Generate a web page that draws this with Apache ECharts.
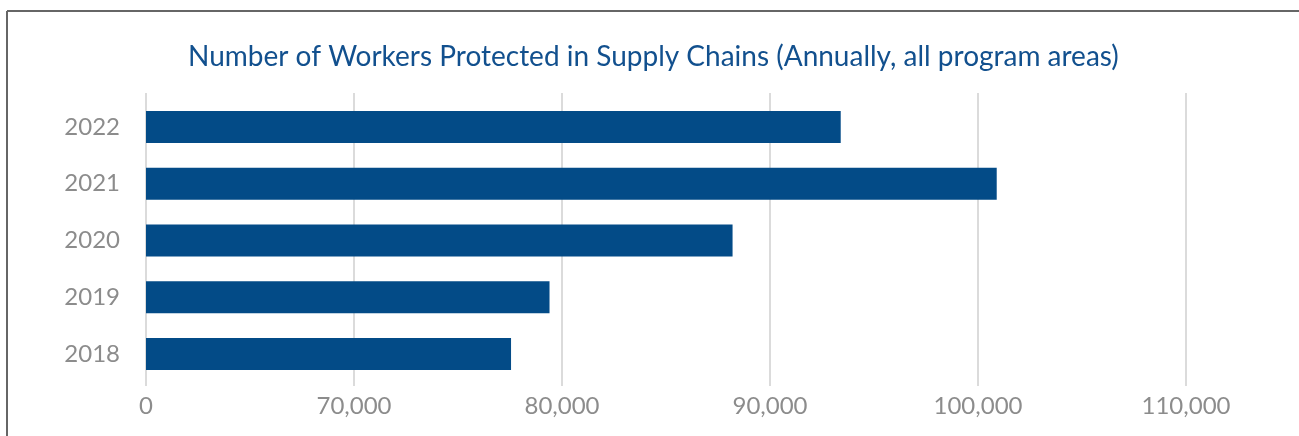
<!DOCTYPE html>
<html>
<head>
<meta charset="utf-8">
<title>Number of Workers Protected in Supply Chains</title>
<script src="https://cdn.jsdelivr.net/npm/echarts@6/dist/echarts.min.js"></script>
<style>
  html, body { margin: 0; padding: 0; background: #ffffff; }
  #chart { width: 1299px; height: 436px; }
</style>
</head>
<body>
<div id="chart"></div>
<script>
// Years, top to bottom as displayed
const years = ['2022', '2021', '2020', '2019', '2018'];
// Workers protected per year
const workers = [93400, 100900, 88200, 79400, 77550];
// Value-axis range (the axis is broken: its first tick is labelled "0")
const axisMin = 60000;
const axisMax = 110000;
const axisStep = 10000;
const titleText = 'Number of Workers Protected in Supply Chains (Annually, all program areas)';

const labelColor = '#8c8c8c';
const gridColor = '#cfcfcf';
const barColor = '#034b87';
const fontFamily = 'Lato, "Open Sans", sans-serif';

function tickLabel(v) {
  return v === axisMin ? '0' : v.toLocaleString('en-US');
}

const chart = echarts.init(document.getElementById('chart'), null, { renderer: 'canvas' });

chart.setOption({
  animation: false,
  backgroundColor: '#ffffff',
  title: {
    text: titleText,
    left: 188,
    top: 43,
    padding: 0,
    textStyle: { color: '#12508e', fontSize: 28, fontWeight: 'normal', fontFamily: fontFamily }
  },
  graphic: [
    { type: 'line', shape: { x1: 7, y1: 11, x2: 1299, y2: 11 }, style: { stroke: '#666666', lineWidth: 2 } },
    { type: 'line', shape: { x1: 7, y1: 11, x2: 7, y2: 436 }, style: { stroke: '#666666', lineWidth: 2 } }
  ],
  grid: [
    // bars
    { left: 146, right: 113, top: 98.5, bottom: 53.5, containLabel: false },
    // gridlines and value labels
    { left: 146, right: 113, top: 93, bottom: 50, containLabel: false }
  ],
  xAxis: [
    {
      gridIndex: 0, type: 'value', min: axisMin, max: axisMax, interval: axisStep,
      axisLine: { show: false }, axisTick: { show: false },
      axisLabel: { show: false }, splitLine: { show: false }
    },
    {
      gridIndex: 1, type: 'value', min: axisMin, max: axisMax, interval: axisStep,
      axisLine: { show: false }, axisTick: { show: false },
      axisLabel: {
        color: labelColor, fontSize: 24, fontFamily: fontFamily, margin: 8,
        formatter: tickLabel
      },
      splitLine: { show: true, lineStyle: { color: gridColor, width: 1.5 } }
    }
  ],
  yAxis: [
    {
      gridIndex: 0, type: 'category', data: years, inverse: true,
      axisLine: { show: false }, axisTick: { show: false },
      axisLabel: { color: labelColor, fontSize: 24, fontFamily: fontFamily, margin: 26 }
    },
    {
      gridIndex: 1, type: 'category', data: years, inverse: true, show: false
    }
  ],
  series: [
    {
      type: 'bar',
      xAxisIndex: 0,
      yAxisIndex: 0,
      data: workers,
      barWidth: 32,
      itemStyle: { color: barColor },
      z: 3
    }
  ]
});
</script>
</body>
</html>
